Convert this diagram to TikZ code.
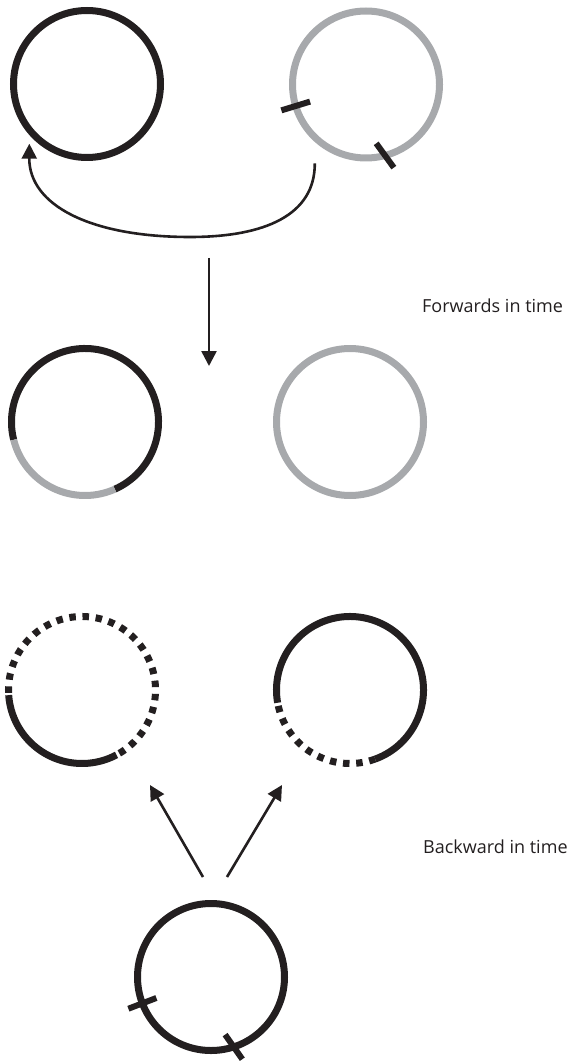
\documentclass[tikz,border=0pt]{standalone}
\usepackage{fontspec}
\setmainfont{Open Sans}
\usetikzlibrary{arrows.meta,calc}
\definecolor{ink}{HTML}{231F20}
\definecolor{shade}{HTML}{A7A9AC}

\begin{document}
\begin{tikzpicture}[
    x=1pt, y=1pt,
    ring/.style={circle, minimum size=147pt, inner sep=0pt, outer sep=0pt, line width=7pt},
    arc black/.style={draw=ink, line width=7pt},
    arc grey/.style={draw=shade, line width=7pt},
    arc dots/.style={draw=ink, line width=7pt, dash pattern=on 6.5pt off 6.7pt, dash phase=10pt},
    tick/.style={draw=ink, line width=6pt},
    arrow/.style={-{Triangle[length=15pt, width=15pt]}, line width=2.6pt, draw=ink},
    timetext/.style={anchor=base west, inner sep=0pt, text=ink, font=\fontsize{18}{20}\selectfont}
]
\useasboundingbox (0,0) rectangle (580,-1064);

% top row
\node[ring, draw=ink] (donor) at (87,-84) {};
\node[ring, draw=shade] (cut) at (366,-84.5) {};
\draw[tick] (cut.197) ++(17:15) -- ++(197:30);
\draw[tick] (cut.285) ++(126:15) -- ++(-54:30);
\coordinate (cutfoot) at ($(cut.center)+(237:94)$);
\coordinate (donorfoot) at ($(donor.center)+(226:83)$);
\draw[arrow] (cutfoot) .. controls (315,-215) and (265,-237) .. (190,-237)
    .. controls (90,-237) and (29,-205) .. (donorfoot);

% forwards
\coordinate (fwdtop) at (209,-258);
\coordinate (fwdbot) at (209,-366);
\draw[arrow] (fwdtop) -- (fwdbot);
\node[timetext] (fwd) at (422,-312) {Forwards in time};

\node[ring] (mixed) at (85,-422) {};
\draw[arc black] (mixed.294) arc[start angle=294, end angle=554, radius=73.5pt];
\draw[arc grey] (mixed.194) arc[start angle=194, end angle=294, radius=73.5pt];
\node[ring, draw=shade] (empty) at (350,-422) {};

% backwards
\node[ring] (backl) at (82,-690) {};
\draw[arc black] (backl.184) arc[start angle=184, end angle=298, radius=73.5pt];
\draw[arc dots] (backl.298) arc[start angle=298, end angle=544, radius=73.5pt];
\node[ring] (backr) at (350,-690) {};
\draw[arc black] (backr.290) arc[start angle=290, end angle=550, radius=73.5pt];
\draw[arc dots] (backr.190) arc[start angle=190, end angle=290, radius=73.5pt];

\node[ring, draw=ink] (origin) at (211,-977) {};
\draw[tick] (origin.201) ++(21:15) -- ++(201:30);
\draw[tick] (origin.288) ++(125:15) -- ++(-55:30);
\coordinate (originl) at (203,-877);
\coordinate (originr) at (227,-877);
\coordinate (backlfoot) at (150,-785);
\coordinate (backrfoot) at (282,-785);
\draw[arrow] (originl) -- (backlfoot);
\draw[arrow] (originr) -- (backrfoot);
\node[timetext] (bwd) at (423,-853) {Backward in time};
\end{tikzpicture}
\end{document}
